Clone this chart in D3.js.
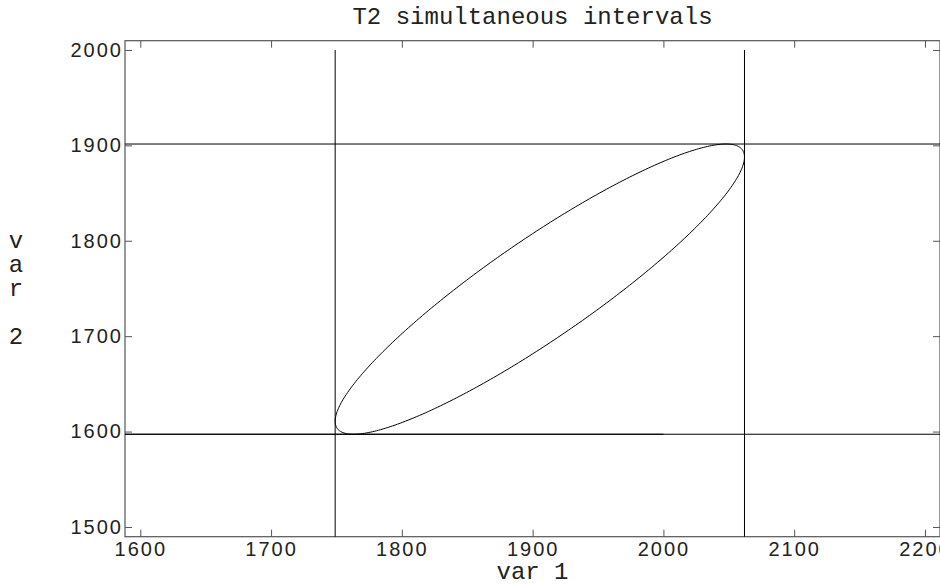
<!DOCTYPE html>
<html>
<head>
<meta charset="utf-8">
<script src="https://cdn.jsdelivr.net/npm/d3@7"></script>
<style>
  body { margin: 0; background: #fff; }
  svg { display: block; }
</style>
</head>
<body>
<script>
// axis limits and ticks
const xLimits = [1588.3, 2211.5];
const yLimits = [1489.8, 2009.7];
const xTicks = [1600, 1700, 1800, 1900, 2000, 2100, 2200];
const yTicks = [1500, 1600, 1700, 1800, 1900, 2000];

// simultaneous T2 intervals (lower, upper)
const var1Interval = [1749.0, 2062.0];
const var2Interval = [1597.2, 1901.4];
// extra segment drawn along the lower var 2 bound
const lowerSegment = [1588.3, 2000];

// confidence ellipse: centre, half-extents, correlation
const ellipseCenter = [1905.5, 1749.3];
const ellipseHalf = [156.5, 152.1];
const ellipseRho = 0.91;

const width = 940;
const height = 584;
const plot = { left: 125, right: 940, top: 40.7, bottom: 536.7 };

const svg = d3.select("body").append("svg")
    .attr("width", width)
    .attr("height", height);

const x = d3.scaleLinear().domain(xLimits).range([plot.left, plot.right]);
const y = d3.scaleLinear().domain(yLimits).range([plot.bottom, plot.top]);

const tickLen = 7;
const frameColor = "#555";
const tickFont = "'Liberation Sans', Arial, sans-serif";
const monoFont = "'Liberation Mono', 'Courier New', monospace";
const fmt = d3.format("d");

// frame
svg.append("rect")
    .attr("x", plot.left)
    .attr("y", plot.top)
    .attr("width", plot.right - plot.left)
    .attr("height", plot.bottom - plot.top)
    .attr("fill", "none")
    .attr("stroke", frameColor)
    .attr("stroke-width", 1.2);

// axes with inward ticks
const bottomAxis = svg.append("g")
    .attr("transform", `translate(0,${plot.bottom})`)
    .call(d3.axisBottom(x).tickValues(xTicks).tickFormat(fmt).tickSizeInner(-tickLen).tickSizeOuter(0).tickPadding(5));
const topAxis = svg.append("g")
    .attr("transform", `translate(0,${plot.top})`)
    .call(d3.axisTop(x).tickValues(xTicks).tickSizeInner(-tickLen).tickSizeOuter(0).tickFormat(""));
const leftAxis = svg.append("g")
    .attr("transform", `translate(${plot.left},0)`)
    .call(d3.axisLeft(y).tickValues(yTicks).tickFormat(fmt).tickSizeInner(-tickLen).tickSizeOuter(0).tickPadding(4));
const rightAxis = svg.append("g")
    .attr("transform", `translate(${plot.right},0)`)
    .call(d3.axisRight(y).tickValues(yTicks).tickSizeInner(-tickLen).tickSizeOuter(0).tickFormat(""));

[bottomAxis, topAxis, leftAxis, rightAxis].forEach(g => {
    g.select(".domain").remove();
    g.selectAll(".tick line").attr("stroke", frameColor);
    g.selectAll(".tick text")
        .attr("fill", "#222")
        .style("font-family", tickFont)
        .style("font-size", "20px")
        .style("letter-spacing", "2px");
});
leftAxis.selectAll(".tick text").attr("dx", "2px");

// interval lines
const lines = svg.append("g")
    .attr("fill", "none")
    .attr("stroke", "#000")
    .attr("stroke-width", 1);

var1Interval.forEach(v => {
    lines.append("line")
        .attr("x1", x(v)).attr("x2", x(v))
        .attr("y1", y(yLimits[0])).attr("y2", y(2000));
});
var2Interval.forEach(v => {
    lines.append("line")
        .attr("x1", x(xLimits[0])).attr("x2", x(xLimits[1]))
        .attr("y1", y(v)).attr("y2", y(v));
});
lines.append("line")
    .attr("x1", x(lowerSegment[0])).attr("x2", x(lowerSegment[1]))
    .attr("y1", y(var2Interval[0])).attr("y2", y(var2Interval[0]));

// ellipse
const angles = d3.range(0, 361, 1).map(d => d * Math.PI / 180);
const s = Math.sqrt(1 - ellipseRho * ellipseRho);
const ellipsePts = angles.map(t => [
    ellipseCenter[0] + ellipseHalf[0] * Math.cos(t),
    ellipseCenter[1] + ellipseHalf[1] * (ellipseRho * Math.cos(t) + s * Math.sin(t))
]);
lines.append("path")
    .attr("d", d3.line().x(d => x(d[0])).y(d => y(d[1]))(ellipsePts));

// title and axis labels
svg.append("text")
    .attr("x", (plot.left + plot.right) / 2)
    .attr("y", 24)
    .attr("text-anchor", "middle")
    .attr("fill", "#222")
    .style("font-family", monoFont)
    .style("font-size", "24px")
    .text("T2 simultaneous intervals");

svg.append("text")
    .attr("x", (plot.left + plot.right) / 2)
    .attr("y", 579)
    .attr("text-anchor", "middle")
    .attr("fill", "#222")
    .style("font-family", monoFont)
    .style("font-size", "24px")
    .text("var 1");

const yLabel = "var 2".split("");
svg.append("g")
    .selectAll("text")
    .data(yLabel)
    .enter().append("text")
        .attr("x", 16)
        .attr("y", (d, i) => 248 + i * 24)
        .attr("text-anchor", "middle")
        .attr("fill", "#222")
        .style("font-family", monoFont)
        .style("font-size", "24px")
        .text(d => d);
</script>
</body>
</html>
